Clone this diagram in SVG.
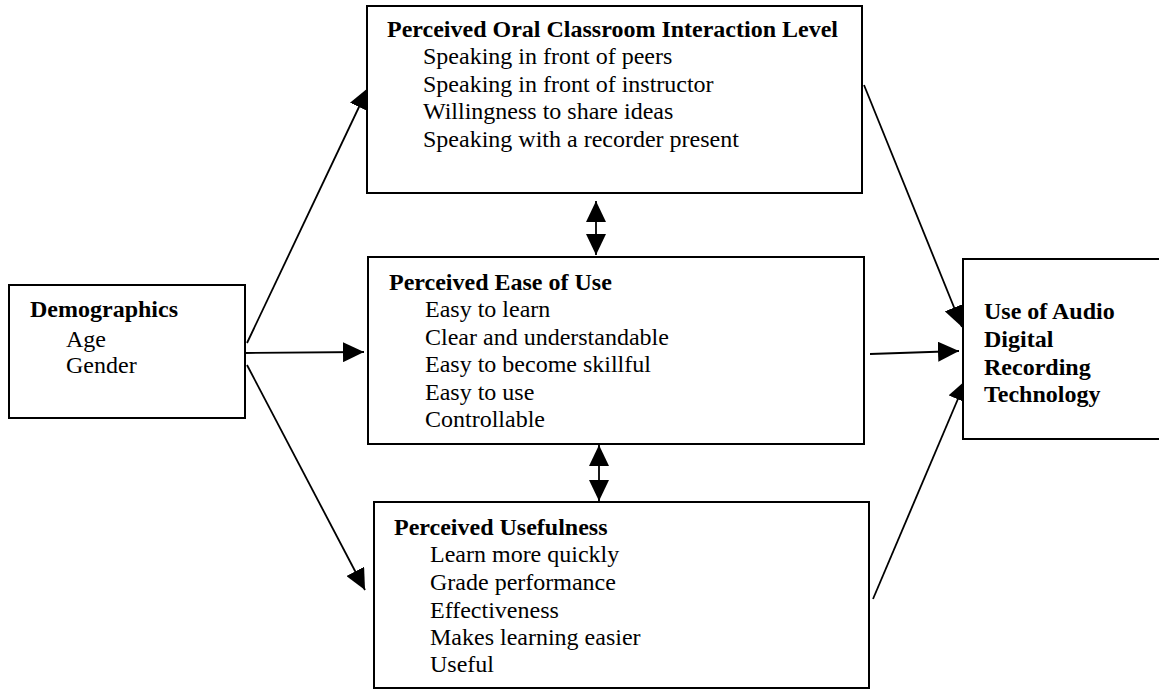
<svg xmlns="http://www.w3.org/2000/svg" width="1159" height="690" viewBox="0 0 1159 690">
<style>
.box{fill:#fff;stroke:#000;stroke-width:2}
.t{font-family:"Liberation Serif","Times New Roman",serif;font-size:24px;fill:#000}
.b{font-weight:bold}
.c{stroke:#000;stroke-width:1.8;fill:none}
</style>
<defs>
<marker id="ah" viewBox="0 0 21 20" refX="21" refY="10" markerWidth="21" markerHeight="20" markerUnits="userSpaceOnUse" orient="auto-start-reverse">
<path d="M0,0 L21,10 L0,20 z" fill="#000"/>
</marker>
</defs>
<rect width="1159" height="690" fill="#fff"/>
<g id="connectors">
<line class="c" x1="247" y1="343" x2="368" y2="88" marker-end="url(#ah)"/>
<line class="c" x1="245" y1="353" x2="364" y2="352" marker-end="url(#ah)"/>
<line class="c" x1="247" y1="365" x2="365" y2="590" marker-end="url(#ah)"/>
<line class="c" x1="864" y1="85" x2="962" y2="327" marker-end="url(#ah)"/>
<line class="c" x1="870" y1="354" x2="959" y2="351" marker-end="url(#ah)"/>
<line class="c" x1="873" y1="599" x2="966" y2="380" marker-end="url(#ah)"/>
<line class="c" x1="596" y1="201" x2="596" y2="255" marker-start="url(#ah)" marker-end="url(#ah)"/>
<line class="c" x1="599" y1="445" x2="599" y2="501" marker-start="url(#ah)" marker-end="url(#ah)"/>
</g>
<g id="demographics">
<rect class="box" x="9" y="285" width="236" height="133"/>
<text class="t b" x="30" y="317">Demographics</text>
<text class="t" x="66" y="347">Age</text>
<text class="t" x="66" y="373">Gender</text>
</g>
<g id="oral">
<rect class="box" x="367" y="6" width="495" height="187"/>
<text class="t b" x="387" y="37">Perceived Oral Classroom Interaction Level</text>
<text class="t" x="423" y="64">Speaking in front of peers</text>
<text class="t" x="423" y="91.5">Speaking in front of instructor</text>
<text class="t" x="423" y="119">Willingness to share ideas</text>
<text class="t" x="423" y="146.5">Speaking with a recorder present</text>
</g>
<g id="ease">
<rect class="box" x="368" y="257" width="496" height="187"/>
<text class="t b" x="389" y="290">Perceived Ease of Use</text>
<text class="t" x="425" y="317">Easy to learn</text>
<text class="t" x="425" y="345">Clear and understandable</text>
<text class="t" x="425" y="372">Easy to become skillful</text>
<text class="t" x="425" y="400">Easy to use</text>
<text class="t" x="425" y="427">Controllable</text>
</g>
<g id="usefulness">
<rect class="box" x="374" y="502" width="495" height="186"/>
<text class="t b" x="394" y="535">Perceived Usefulness</text>
<text class="t" x="430" y="562">Learn more quickly</text>
<text class="t" x="430" y="590">Grade performance</text>
<text class="t" x="430" y="618">Effectiveness</text>
<text class="t" x="430" y="645">Makes learning easier</text>
<text class="t" x="430" y="672">Useful</text>
</g>
<g id="use">
<rect class="box" x="963" y="259" width="200" height="180"/>
<text class="t b" x="984" y="319">Use of Audio</text>
<text class="t b" x="984" y="347">Digital</text>
<text class="t b" x="984" y="375">Recording</text>
<text class="t b" x="984" y="402">Technology</text>
</g>
</svg>
